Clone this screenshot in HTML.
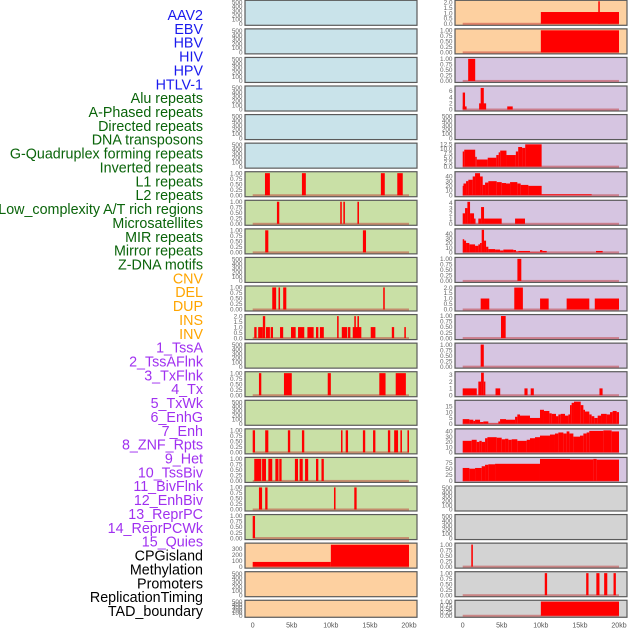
<!DOCTYPE html>
<html><head><meta charset="utf-8"><style>
html,body{margin:0;padding:0;background:#fff;width:630px;height:630px;overflow:hidden}
svg{display:block;font-family:"Liberation Sans",sans-serif}
</style></head><body>
<svg id="chart" width="630" height="630" viewBox="0 0 630 630" xmlns="http://www.w3.org/2000/svg"></svg>
<script>
// ---- data ----
const trackNames = ["AAV2","EBV","HBV","HIV","HPV","HTLV-1","Alu repeats","A-Phased repeats","Directed repeats","DNA transposons","G-Quadruplex forming repeats","Inverted repeats","L1 repeats","L2 repeats","Low_complexity A/T rich regions","Microsatellites","MIR repeats","Mirror repeats","Z-DNA motifs","CNV","DEL","DUP","INS","INV","1_TssA","2_TssAFlnk","3_TxFlnk","4_Tx","5_TxWk","6_EnhG","7_Enh","8_ZNF_Rpts","9_Het","10_TssBiv","11_BivFlnk","12_EnhBiv","13_ReprPC","14_ReprPCWk","15_Quies","CPGisland","Methylation","Promoters","ReplicationTiming","TAD_boundary"];
const groupColors = ["#1a1aee","#0a640a","#ffa500","#a030f0","#000000"];
const trackGroup = [0,0,0,0,0,0,1,1,1,1,1,1,1,1,1,1,1,1,1,2,2,2,2,2,3,3,3,3,3,3,3,3,3,3,3,3,3,3,3,4,4,4,4,4];
const panelBg = ["#c9e3ea","#c9e0a6","#fdd0a0","#d6c5e1","#d3d3d3"];
const xTicks = [0,5,10,15,20];
const xTickLabels = ["0","5kb","10kb","15kb","20kb"];

const T500 = ["0","100","200","300","400","500"];
const T1 = ["0.00","0.25","0.50","0.75","1.00"];
const T2 = ["0.0","0.5","1.0","1.5","2.0"];
const T6 = ["0","2","4","6"];
const T12 = ["0.0","2.5","5.0","7.5","10.0","12.5"];
const T40 = ["0","10","20","30","40"];
const T4 = ["0","1","2","3","4"];
const T3 = ["0","1","2","3"];
const T15 = ["0","5","10","15"];
const T75 = ["0","25","50","75"];
const T300 = ["0","100","200","300"];

// bars: [startKb, endKb, value]
const barsL1 = [[1.57,2.2,1],[6.3,6.8,1],[16.4,16.9,1],[18.5,19.2,1]];
const barsL7 = [[3.1,3.4,1],[11.2,11.4,1],[11.6,11.8,1],[13.4,13.6,1]];
const barsL8 = [[1.6,2.0,1],[14.1,14.5,1]];
const barsL10 = [[2.5,3.0,1],[3.3,3.5,1],[3.9,4.3,1],[16.7,16.9,1]];
const barsL11 = [[0.2,0.5,1],[0.7,1.3,1],[1.3,1.6,2],[1.7,2.2,1],[2.3,2.6,1],[3.5,3.9,1],[4.9,5.5,1],[5.8,6.6,1],[7.0,7.8,1],[8.1,8.4,1],[8.6,9.1,1],[10.8,11.0,2],[11.4,12.1,1],[12.2,12.5,1],[12.8,13.9,1],[13.0,13.2,2],[13.4,13.6,2],[15.1,15.7,1],[17.8,18.1,1],[19.4,19.6,1]];
const barsL13 = [[0.8,1.1,1],[4.0,5.0,1],[9.6,10.0,1],[16.2,17.0,1],[18.3,19.6,1]];
const barsL15 = [[0,0.3,1],[1.6,2.0,1],[4.5,4.8,1],[6.3,6.6,1],[11.3,11.45,1],[11.9,12.2,1],[14.1,14.4,1],[15.4,15.7,1],[17.3,17.6,1],[18.1,18.6,1],[18.9,19.1,1],[19.8,20.0,1]];
const barsL16 = [[0.2,1.1,1],[1.2,1.7,1],[2.0,2.5,1],[2.9,3.3,1],[3.4,3.7,1],[5.4,5.8,1],[6.0,6.4,1],[6.7,7.1,1],[8.1,8.4,1],[8.8,9.1,1]];
const barsL17 = [[0.8,1.2,1],[1.6,1.9,1],[10.4,10.6,1],[13.0,13.3,1]];
const barsL18 = [[0.0,0.3,1]];
const barsCPG = [[0,10,79],[10,20,368]];
const barsINS = [[10,20,1.1],[17.35,17.5,2.1]];
const barsINV = [[10,20,1]];
const barsTssA = [[0.7,1.6,1]];
const barsTssAFlnk = [[0,0.5,1],[0,0.3,5.5],[2.1,3.0,2],[2.3,2.7,7],[5.7,6.4,1]];
const barsTx = [[0,0.2,8.5],[0.2,1.6,9.5],[1.6,1.8,5.5],[1.8,3.2,4],[3.2,4.3,5],[4.3,4.6,6.5],[4.6,4.8,8],[4.8,5.6,9],[5.6,6.8,6.5],[6.8,7.1,8.5],[7.1,7.6,11],[7.6,8.0,10.5],[8.0,10.1,12.5]];
const barsTxWk = [[0,0.1,20],[0.1,0.43,25],[0.43,0.72,30],[0.72,1.28,33],[1.28,1.58,40],[1.58,2.22,47],[2.22,2.56,40],[2.56,2.86,22],[2.86,3.28,27],[3.28,4.35,30],[4.35,4.99,28],[4.99,5.54,26],[5.54,6.06,25],[6.06,6.99,28],[6.99,7.42,25],[7.42,8.4,22],[8.4,10.1,20],[10.1,16.5,2]];
const barsEnhG = [[0,0.3,2],[0.3,0.6,3],[0.6,0.94,4.2],[0.94,1.45,2],[1.45,1.58,1],[2.0,2.35,1],[2.35,2.73,3.2],[2.73,4.99,1],[6.7,7.97,1]];
const barsEnh = [[0,0.09,28],[0.09,0.43,25],[0.43,0.85,20],[0.85,1.58,17],[1.58,2.0,14],[2.0,2.22,17],[2.22,2.43,20],[2.43,2.73,48],[2.73,2.99,25],[2.99,3.28,12],[3.28,4.14,7],[4.14,4.78,6],[4.78,5.2,4],[5.2,6.48,6],[6.48,6.82,5],[6.82,7.12,2],[7.12,8.61,3],[8.61,9.89,1],[9.89,10.19,5],[10.19,10.75,3],[17.06,17.91,3]];
const barsZNF = [[7.0,7.5,1]];
const barsHet = [[2.3,3.4,1],[6.6,7.7,2],[9.9,11.0,1],[13.3,16.2,1],[16.9,20.0,1]];
const barsTssBiv = [[4.9,5.5,1]];
const barsBivFlnk = [[2.3,2.7,1]];
const barsEnhBiv = [[0,1.8,1],[2.0,2.35,2],[2.35,2.7,3.3],[2.7,2.9,2],[4.2,4.8,1],[7.9,8.3,1],[8.7,9.1,1],[17.5,17.9,1]];
const barsReprPC = [[0,0.85,4],[0.85,1.36,3.5],[1.36,1.58,2.5],[1.58,2.22,3.5],[2.22,2.64,1.5],[2.64,3.28,2],[3.28,4.56,0.3],[4.56,4.78,2],[4.78,5.54,4],[5.54,6.7,3.5],[6.7,6.99,6],[6.99,7.33,8],[7.33,8.61,7],[8.61,9.89,5],[9.89,10.4,12],[10.4,11.09,11],[11.09,11.39,9],[11.39,11.94,8.5],[11.94,12.24,6.5],[12.24,12.54,8],[12.54,13.09,8.5],[13.09,13.52,7],[13.52,13.73,8],[13.73,13.94,16],[13.94,14.24,18],[14.24,15.1,19],[15.1,15.44,16],[15.44,15.65,12],[15.65,16.2,10.5],[16.2,16.5,8],[16.5,16.84,6.5],[16.84,17.27,5],[17.27,17.7,7],[17.7,18.42,8.5],[18.42,18.85,8],[18.85,19.19,10],[19.19,19.7,11],[19.7,20.0,10]];
const barsReprPCWk = [[0,1.15,22],[1.15,1.79,24],[1.79,2.13,20],[2.13,2.43,22],[2.43,2.86,20],[2.86,3.16,27],[3.16,4.35,29],[4.35,4.99,28],[4.99,5.42,25],[5.42,5.84,26],[5.84,6.27,24],[6.27,6.99,25],[6.99,8.19,22],[8.19,8.61,24],[8.61,9.25,27],[9.25,9.89,29],[9.89,11.17,32],[11.17,11.81,34],[11.81,12.24,36],[12.24,12.88,38],[12.88,13.3,36],[13.3,13.65,40],[13.65,14.16,36],[14.16,15.01,30],[15.01,15.44,32],[15.44,15.86,36],[15.86,16.2,38],[16.2,18.0,41],[18.0,19.06,42],[19.06,20.0,40]];
const barsQuies = [[0,0.85,53],[0.85,1.58,50],[1.58,2.43,53],[2.43,2.86,60],[2.86,3.28,66],[3.28,4.14,68],[4.14,9.89,70],[9.89,13.73,90],[13.73,16.72,88],[16.72,17.14,90],[17.14,20.0,87]];
const barsMeth = [[1.1,1.3,1]];
const barsPromo = [[10.5,10.8,1],[15.8,16.1,1],[17.1,17.5,1],[18.1,18.5,1],[19.3,19.6,1]];
const barsTAD = [[10,20,1]];

// panels: [column, row, bgIndex, ticks, yTop, bars]
const panels = [
 [0,0,0,T500,520,null],[0,1,0,T500,520,null],[0,2,0,T500,520,null],[0,3,0,T500,520,null],[0,4,0,T500,520,null],[0,5,0,T500,520,null],
 [0,6,1,T1,1.02,barsL1],[0,7,1,T1,1.02,barsL7],[0,8,1,T1,1.02,barsL8],[0,9,1,T500,520,null],[0,10,1,T1,1.02,barsL10],
 [0,11,1,T2,2.05,barsL11],[0,12,1,T500,520,null],[0,13,1,T1,1.02,barsL13],[0,14,1,T500,520,null],[0,15,1,T1,1.02,barsL15],
 [0,16,1,T1,1.02,barsL16],[0,17,1,T1,1.02,barsL17],[0,18,1,T1,1.02,barsL18],
 [0,19,2,T300,378,barsCPG],[0,20,2,T500,520,null],[0,21,2,T500,520,null],
 [1,0,2,T2,2.1,barsINS],[1,1,2,T1,1.02,barsINV],
 [1,2,3,T1,1.02,barsTssA],[1,3,3,T6,7.3,barsTssAFlnk],[1,4,3,T500,520,null],[1,5,3,T12,12.6,barsTx],
 [1,6,3,T40,48,barsTxWk],[1,7,3,T4,4.3,barsEnhG],[1,8,3,T40,48,barsEnh],[1,9,3,T1,1.02,barsZNF],
 [1,10,3,T2,2.05,barsHet],[1,11,3,T1,1.02,barsTssBiv],[1,12,3,T1,1.02,barsBivFlnk],[1,13,3,T3,3.3,barsEnhBiv],
 [1,14,3,T15,19.3,barsReprPC],[1,15,3,T40,43,barsReprPCWk],[1,16,3,T75,92,barsQuies],
 [1,17,4,T500,520,null],[1,18,4,T500,520,null],[1,19,4,T1,1.02,barsMeth],[1,20,4,T1,1.02,barsPromo],[1,21,4,T1,1.02,barsTAD]
];

// ---- drawing ----
const svg = document.getElementById('chart');
const NS = "http://www.w3.org/2000/svg";
function mk(tag, attrs){ const e=document.createElementNS(NS,tag); for(const k in attrs) e.setAttribute(k,attrs[k]); svg.appendChild(e); return e; }

const colX = [245,455], panelW = 172;
const kbPx = 7.815, kb0Off = 7.7;
function xScale(col, kb){ return colX[col] + kb0Off + kb*kbPx; }
function rowTop(r){ return 0.3 + r*28.57; }
function rowH(r){ return r===21 ? 17 : 25; }
function yScale(r, v, ytop){ const b=rowTop(r)+rowH(r)-1.5; const h=rowH(r)-2.5; return b - (v/ytop)*h; }

// labels
trackNames.forEach((n,i)=>{
  const t = mk('text',{x:203,y:(20+i*13.86).toFixed(2),'text-anchor':'end','font-size':'14.3',fill:groupColors[trackGroup[i]]});
  t.textContent = n;
  
  
});

panels.forEach((p,pi)=>{
  const [col,row,bg,ticks,ytop,bars] = p;
  const top=rowTop(row), h=rowH(row), x0=colX[col];
  const r = mk('rect',{x:x0,y:top,width:panelW,height:h,fill:panelBg[bg],stroke:'#5a5a5a','stroke-width':1.2});
  
  
  ticks.forEach(tl=>{
    const v=parseFloat(tl);
    const t=mk('text',{x:x0-2.5,y:(yScale(row,v,ytop)+2.2).toFixed(2),'text-anchor':'end','font-size':'6.4',fill:'#666'});
    t.textContent=tl;
    
    
  });
  if(bars){
    const y0=yScale(row,0,ytop);
    const bl = mk('rect',{x:xScale(col,0),y:y0-1,width:xScale(col,20)-xScale(col,0),height:2,fill:'rgba(190,40,40,0.45)'});
    
    
    bars.forEach(b=>{
      const xa=xScale(col,b[0]), xb=xScale(col,b[1]);
      const yv=Math.max(yScale(row,b[2],ytop), top+0.6);
      const br=mk('rect',{x:xa.toFixed(2),y:yv.toFixed(2),width:Math.max(1.5,xb-xa).toFixed(2),height:(y0-yv).toFixed(2),fill:'#ff0000'});
      
      
    });
  }
});

// x axes
[0,1].forEach(col=>{
  xTicks.forEach((k,i)=>{
    const t=mk('text',{x:xScale(col,k).toFixed(2),y:627.5,'text-anchor':'middle','font-size':'7',fill:'#555'});
    t.textContent=xTickLabels[i];
    
    
  });
});
</script>
</body></html>
